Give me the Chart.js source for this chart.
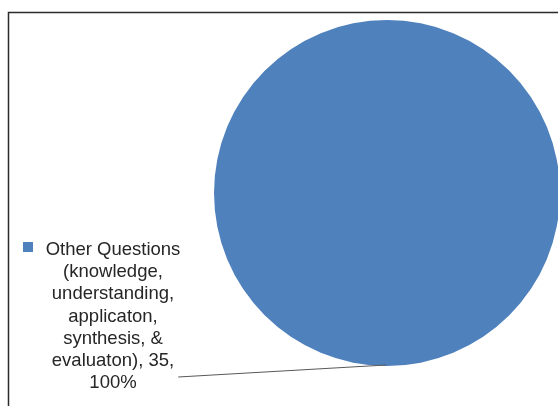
<!DOCTYPE html>
<html>
<head>
<meta charset="utf-8">
<script src="https://cdn.jsdelivr.net/npm/chart.js@4/dist/chart.umd.min.js"></script>
<style>
  html, body { margin: 0; padding: 0; background: #fff; overflow: hidden; }
  #wrap { width: 558px; height: 406px; position: relative; }
</style>
</head>
<body>
<div id="wrap"><canvas id="pieChart"></canvas></div>
<script>
const categories = ['Other Questions (knowledge, understanding, applicaton, synthesis, & evaluaton)'];
const values = [35];
const colors = ['#4F81BD'];

// label + leader line + frame, Excel style
const excelDecor = {
    id: 'excelDecor',
    afterDraw(chart) {
        const ctx = chart.ctx;
        const arc = chart.getDatasetMeta(0).data[0];
        const total = values.reduce((a, b) => a + b, 0);
        const pct = Math.round(values[0] / total * 100);

        ctx.save();
        // chart frame (top + left visible)
        ctx.strokeStyle = '#2b2b2b';
        ctx.lineWidth = 1.5;
        ctx.beginPath();
        ctx.moveTo(8.5, 406);
        ctx.lineTo(8.5, 12.5);
        ctx.lineTo(558, 12.5);
        ctx.stroke();

        // wrap label text
        ctx.font = '18.5px "Liberation Sans", Arial, sans-serif';
        const words = (categories[0] + ', ' + values[0] + ', ' + pct + '%').split(' ');
        const lines = [];
        let cur = '';
        words.forEach(w => {
            const test = cur ? cur + ' ' + w : w;
            if (ctx.measureText(test).width > 155 && cur) {
                lines.push(cur);
                cur = w;
            } else {
                cur = test;
            }
        });
        lines.push(cur);

        const cx = 113, y0 = 250, lh = 22.2;
        ctx.fillStyle = '#262626';
        ctx.textAlign = 'center';
        ctx.textBaseline = 'middle';
        lines.forEach((l, i) => ctx.fillText(l, cx, y0 + i * lh));

        // legend square
        ctx.fillStyle = colors[0];
        ctx.fillRect(23, 242, 10, 10);

        // leader line
        const li = lines.length - 2;
        const lw = ctx.measureText(lines[li]).width;
        const sx = cx + lw / 2 + 4, sy = y0 + li * lh + 16;
        const ex = arc.x, ey = arc.y + arc.outerRadius;
        ctx.strokeStyle = '#595959';
        ctx.lineWidth = 1.2;
        ctx.beginPath();
        ctx.moveTo(sx, sy);
        ctx.lineTo(ex - 1, ey - 1);
        ctx.stroke();
        ctx.restore();
    }
};

new Chart(document.getElementById('pieChart'), {
    type: 'pie',
    data: {
        labels: categories,
        datasets: [{
            data: values,
            backgroundColor: colors,
            borderWidth: 0,
            radius: 173
        }]
    },
    options: {
        responsive: true,
        maintainAspectRatio: false,
        animation: false,
        layout: { padding: { left: 216, right: 0, top: 20, bottom: 40 } },
        plugins: {
            legend: { display: false },
            tooltip: { enabled: false }
        }
    },
    plugins: [excelDecor]
});
</script>
</body>
</html>
